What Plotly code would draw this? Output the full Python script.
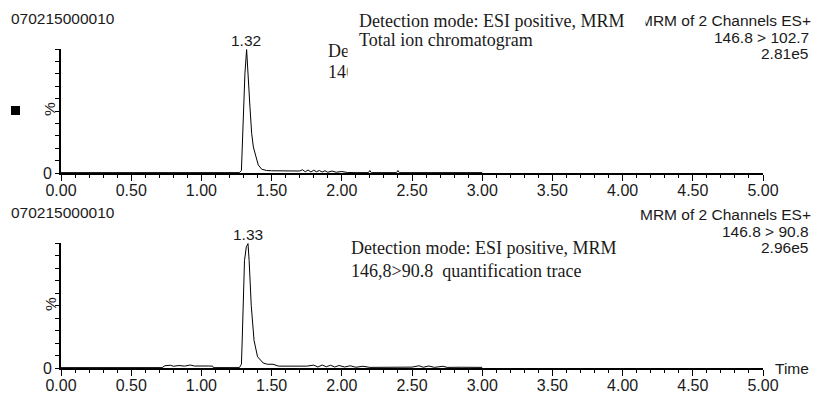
import plotly.graph_objects as go

W, H = 815, 393

# ---- data ----
tic_time = [0.00, 0.50, 1.00, 1.27, 1.285, 1.29, 1.295, 1.303, 1.31, 1.322, 1.334, 1.346, 1.358, 1.37,
            1.389, 1.405, 1.43, 1.465, 1.50, 1.60, 1.70, 1.72, 1.74, 1.76, 1.78, 1.80, 1.82, 1.84,
            1.86, 1.88, 1.90, 1.93, 1.96, 2.00, 2.04, 2.10, 2.19, 2.20, 2.21, 2.39, 2.40, 2.41,
            2.70, 3.00]
tic_int = [0.3, 0.3, 0.3, 0.3, 2, 18, 32, 59, 80, 99.5, 80, 53, 32, 21,
           13, 6.5, 3, 2, 1.8, 1.8, 1.6, 2.6, 1.0, 2.4, 0.8, 2.2, 1.0, 2.0,
           0.8, 1.8, 0.6, 1.6, 0.6, 1.2, 0.4, 0.3, 0.3, 2.0, 0.3, 0.3, 2.0, 0.3,
           0.3, 0.3]

q_time = [0.00, 0.72, 0.74, 0.78, 0.80, 0.84, 0.88, 0.92, 0.95, 1.00, 1.05, 1.08, 1.085, 1.27,
          1.285, 1.29, 1.30, 1.307, 1.32, 1.332, 1.34, 1.355, 1.375, 1.40, 1.44, 1.47, 1.51,
          1.55, 1.75, 1.80, 1.83, 1.86, 1.89, 1.92, 1.95, 1.98, 2.02, 2.06, 2.10, 2.15, 2.20,
          2.30, 2.40, 2.50, 2.55, 2.58, 2.62, 2.66, 2.72, 2.75, 2.85, 3.00]
q_int = [0.3, 0.3, 1.8, 2.2, 1.4, 2.0, 1.5, 2.4, 1.6, 1.8, 1.6, 1.5, 0.3, 0.3,
         3, 20, 55, 86, 97, 99.5, 86, 50, 22, 9, 4, 3, 3,
         1.5, 1.5, 2.3, 0.8, 2.4, 1.0, 2.2, 0.8, 2.0, 0.8, 1.8, 0.6, 1.4, 0.5,
         0.6, 0.5, 0.7, 1.8, 0.6, 1.6, 0.5, 1.4, 0.5, 0.6, 0.5]

x_tick_step = 0.5
y_tick_vals = list(range(0, 101, 10))
y_tick_text = ["0"] + [""] * 10

sample_id = "070215000010"
top_right = ["MRM of 2 Channels ES+", "146.8 > 102.7", "2.81e5"]
bot_right = ["MRM of 2 Channels ES+", "146.8 > 90.8", "2.96e5"]
top_peak = 1.32
bot_peak = 1.33

def px(x):
    return x / W

def py(y):
    return 1 - y / H

SANS = "Liberation Sans, Arial, sans-serif"
SERIF = "Liberation Serif, Times New Roman, serif"
TXT = "#1a1a1a"

fig = go.Figure()
fig.add_trace(go.Scatter(x=tic_time, y=tic_int, mode="lines",
                         line=dict(color="black", width=1), xaxis="x", yaxis="y",
                         hoverinfo="skip"))
fig.add_trace(go.Scatter(x=q_time, y=q_int, mode="lines",
                         line=dict(color="black", width=1), xaxis="x2", yaxis="y2",
                         hoverinfo="skip"))

xdom = [px(61), px(763)]

def xaxis_cfg(anchor):
    return dict(domain=xdom, anchor=anchor, range=[0, 5], showline=True, linewidth=2,
                linecolor="black", ticks="outside", ticklen=6, tickwidth=1, tickcolor="black",
                tick0=0, dtick=x_tick_step, tickformat=".2f", showgrid=False, zeroline=False,
                automargin=False, ticklabelstandoff=-4,
                tickfont=dict(family=SANS, size=16, color=TXT),
                minor=dict(dtick=0.1, tick0=0, ticks="outside", ticklen=3, tickcolor="black",
                           tickwidth=1, showgrid=False))

def yaxis_cfg(anchor, top, bottom):
    return dict(domain=[py(bottom), py(top)], anchor=anchor, range=[0, 100], showline=True,
                linewidth=2, linecolor="black", ticks="outside", ticklen=4, tickwidth=1,
                tickcolor="black", tickmode="array", tickvals=y_tick_vals, ticktext=y_tick_text,
                showgrid=False, zeroline=False, automargin=False,
                tickfont=dict(family=SANS, size=16, color=TXT))

ann = []

def txt(text, x, y, xanchor="left", font=SANS, size=15.5, **kw):
    d = dict(text=text, x=px(x), y=py(y), xref="paper", yref="paper", xanchor=xanchor,
             yanchor="middle", showarrow=False, borderpad=0,
             font=dict(family=font, size=size, color=TXT))
    d.update(kw)
    ann.append(d)

# top panel
txt(sample_id, 10, 18.5)
txt("Detection mode: ESI positive, MRM", 327, 51, font=SERIF, size=18)
txt("146,8>102.7\u00a0 confirmation trace", 327, 72, font=SERIF, size=18)
txt(top_right[0], 812, 20, xanchor="right")
txt(top_right[1], 810, 37, xanchor="right")
txt(top_right[2], 809, 53, xanchor="right")
# white cover box
ann.append(dict(text=" ", x=px(347), y=1, xref="paper", yref="paper", xanchor="left",
                yanchor="top", showarrow=False, width=297, height=85, bgcolor="white",
                borderpad=0, font=dict(size=10)))
txt("Detection mode: ESI positive, MRM", 358, 21, font=SERIF, size=18)
txt("Total ion chromatogram", 358, 40, font=SERIF, size=18)
ann.append(dict(text=f"{top_peak:.2f}", x=top_peak, y=100, xref="x", yref="y",
                xanchor="center", yanchor="bottom", showarrow=False, yshift=-2,
                font=dict(family=SANS, size=15.5, color=TXT)))
txt("%", 50, 109, xanchor="center", textangle=-90)

# bottom panel
txt(sample_id, 10, 212)
txt(bot_right[0], 812, 215, xanchor="right")
txt(bot_right[1], 810, 231, xanchor="right")
txt(bot_right[2], 809, 247, xanchor="right")
ann.append(dict(text=f"{bot_peak:.2f}", x=bot_peak, y=100, xref="x2", yref="y2",
                xanchor="center", yanchor="bottom", showarrow=False, yshift=-2,
                font=dict(family=SANS, size=15.5, color=TXT)))
txt("Detection mode: ESI positive, MRM", 350, 248, font=SERIF, size=18)
txt("146,8>90.8\u00a0 quantification trace", 350, 271, font=SERIF, size=18)
txt("%", 50, 304, xanchor="center", textangle=-90)
txt("Time", 774, 368)

fig.update_layout(
    width=W, height=H, margin=dict(l=0, r=0, t=0, b=0, autoexpand=False),
    paper_bgcolor="white", plot_bgcolor="white", showlegend=False,
    xaxis=xaxis_cfg("y"), yaxis=yaxis_cfg("x", 49, 173),
    xaxis2=xaxis_cfg("y2"), yaxis2=yaxis_cfg("x2", 243, 368),
    annotations=ann,
    shapes=[dict(type="rect", xref="paper", yref="paper", x0=px(11), x1=px(20),
                 y0=py(115), y1=py(106), fillcolor="black", line=dict(width=0))],
)

fig.write_html("out.html", config={"displayModeBar": False},
               post_script="document.body.style.margin='0';document.body.style.overflow='hidden';")
